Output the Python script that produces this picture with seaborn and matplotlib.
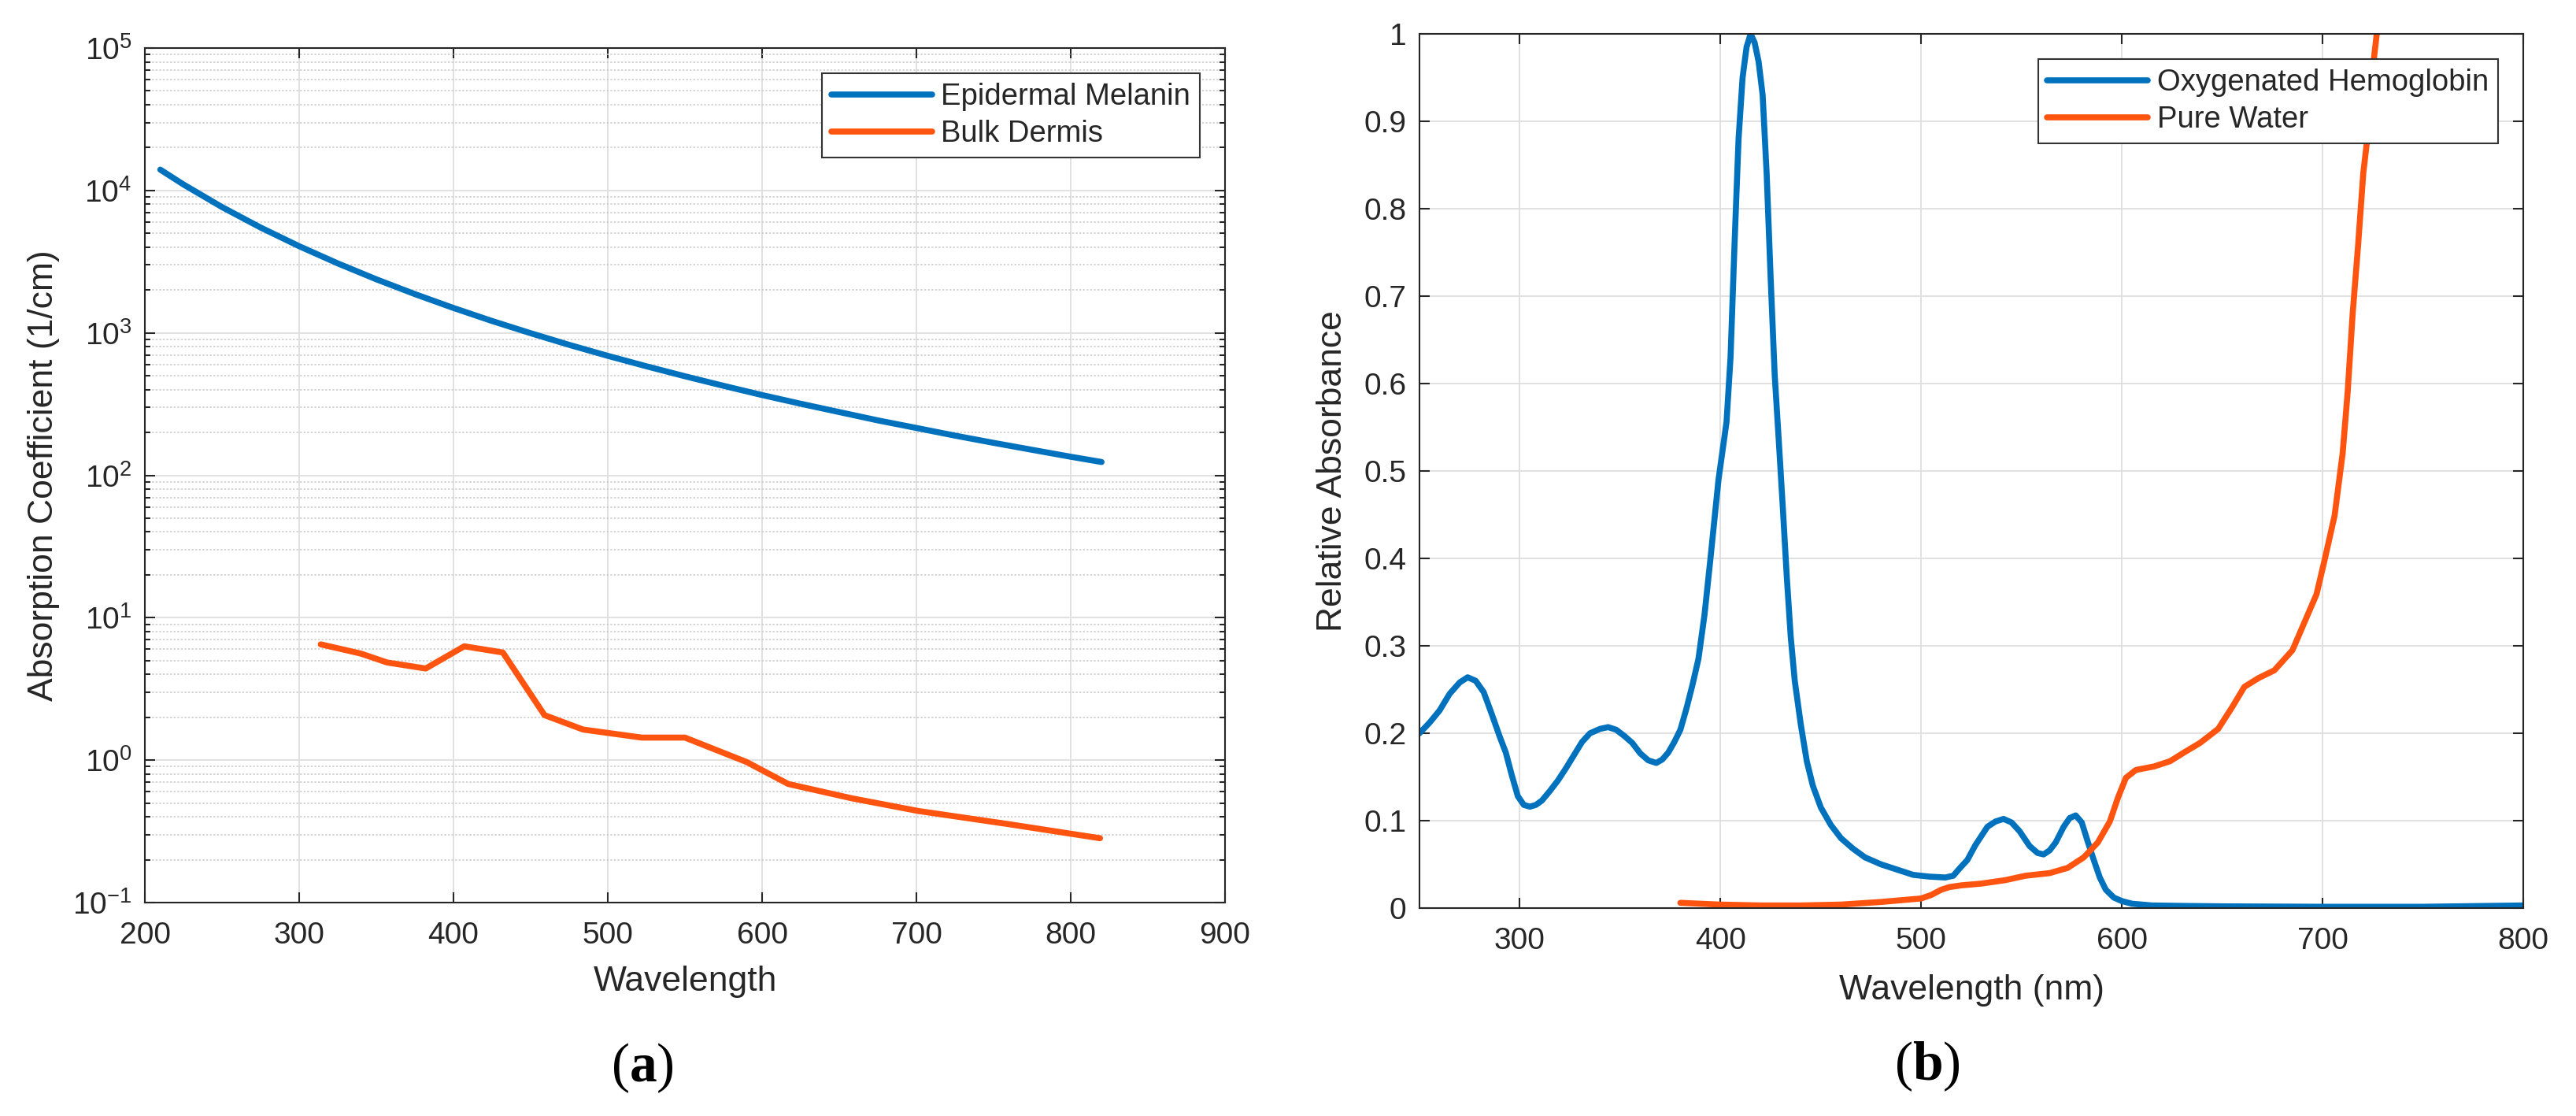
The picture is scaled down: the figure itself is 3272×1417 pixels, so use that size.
import matplotlib
matplotlib.use("Agg")
import matplotlib.pyplot as plt
import seaborn as sns
from matplotlib.ticker import (LogLocator, NullFormatter, NullLocator,
                               LogFormatterSciNotation, FuncFormatter, FixedLocator)

# ---------------- data ----------------
mel_wl = [210, 225, 250, 275, 300, 325, 350, 375, 400, 425, 450, 475, 500, 525, 550, 575,
          600, 625, 650, 675, 700, 725, 750, 775, 800, 820]
mel_mua = [14000, 11020, 7645, 5492, 4061, 3076, 2378, 1872, 1496, 1212, 995, 824, 690, 583,
           496, 425, 366, 318, 278, 243, 215, 190, 169, 151, 135, 124]

derm_wl = [314, 340, 357, 382, 407, 432, 459, 484, 522, 550, 590, 617, 658, 701, 760, 819]
derm_mua = [6.5, 5.6, 4.85, 4.4, 6.3, 5.7, 2.07, 1.64, 1.44, 1.44, 0.97, 0.68, 0.54, 0.44, 0.355, 0.283]

hb_wl = [250, 255, 260, 265, 270, 274, 278, 282, 286, 290, 293, 296, 299, 302, 305, 308, 311,
         315, 319, 323, 327, 331, 335, 340, 344, 348, 352, 356, 360, 364, 368, 371, 374, 377,
         380, 383, 386, 389, 392, 395, 399, 403, 405, 407, 409, 411, 413, 415, 417, 419, 421,
         423, 425, 427, 429, 431, 433, 435, 437, 440, 443, 446, 450, 455, 460, 466, 472, 480,
         488, 496, 504, 512, 516, 519, 523, 527, 533, 537, 541, 545, 549, 554, 558, 561, 564,
         567, 571, 574, 577, 580, 583, 586, 589, 592, 596, 600, 605, 615, 630, 650, 700, 750, 800]
hb_abs = [0.200, 0.212, 0.226, 0.245, 0.258, 0.264, 0.260, 0.247, 0.222, 0.196, 0.178, 0.152,
          0.128, 0.118, 0.116, 0.118, 0.123, 0.134, 0.146, 0.160, 0.175, 0.190, 0.200, 0.205,
          0.207, 0.204, 0.197, 0.189, 0.177, 0.169, 0.166, 0.170, 0.178, 0.190, 0.204, 0.228,
          0.255, 0.285, 0.335, 0.400, 0.490, 0.556, 0.630, 0.760, 0.880, 0.950, 0.985, 1.000,
          0.990, 0.968, 0.930, 0.840, 0.720, 0.610, 0.536, 0.460, 0.380, 0.310, 0.260, 0.210,
          0.168, 0.140, 0.115, 0.095, 0.080, 0.068, 0.058, 0.050, 0.044, 0.038, 0.036, 0.035,
          0.037, 0.045, 0.055, 0.072, 0.093, 0.099, 0.102, 0.098, 0.088, 0.071, 0.063, 0.0614,
          0.066, 0.075, 0.093, 0.103, 0.106, 0.098, 0.076, 0.055, 0.035, 0.021, 0.012, 0.008,
          0.005, 0.003, 0.0025, 0.002, 0.0015, 0.0015, 0.003]

water_wl = [380, 390, 400, 420, 440, 460, 480, 490, 500, 505, 510, 514, 520, 530, 542, 552,
            564, 573, 581, 588, 594, 598, 602, 607, 616, 624, 631, 639, 648, 655, 661, 668,
            676, 685, 691, 697, 701, 706, 710, 712.5, 715, 717.7, 720.3, 723.6, 725.5, 727, 729]
water_abs = [0.006, 0.005, 0.004, 0.003, 0.003, 0.004, 0.007, 0.009, 0.011, 0.015, 0.021,
             0.024, 0.026, 0.028, 0.032, 0.037, 0.040, 0.046, 0.058, 0.075, 0.099, 0.126,
             0.149, 0.158, 0.162, 0.168, 0.178, 0.189, 0.205, 0.230, 0.253, 0.263, 0.272,
             0.295, 0.327, 0.359, 0.398, 0.449, 0.52, 0.59, 0.68, 0.758, 0.841, 0.906, 0.97,
             1.0, 1.08]

left_xticks = [200, 300, 400, 500, 600, 700, 800, 900]
right_xticks = [300, 400, 500, 600, 700, 800]
right_yticks = [0, 0.1, 0.2, 0.3, 0.4, 0.5, 0.6, 0.7, 0.8, 0.9, 1]

# ---------------- style ----------------
sns.set_style("ticks")
DARK = "#262626"
BLUE = "#0072BD"
ORANGE = "#FF5310"
plt.rcParams.update({
    "font.family": ["Liberation Sans", "DejaVu Sans"],
    "mathtext.fontset": "custom",
    "mathtext.rm": "Liberation Serif",
    "mathtext.bf": "Liberation Serif:bold",
    "axes.edgecolor": DARK,
    "axes.linewidth": 1.5,
    "xtick.color": DARK,
    "ytick.color": DARK,
    "axes.labelcolor": DARK,
})

W, H = 3272, 1417
fig = plt.figure(figsize=(W / 100, H / 100), dpi=100)
fig.patch.set_facecolor("white")

def frac(x0, y0, x1, y1):
    return [x0 / W, 1 - y1 / H, (x1 - x0) / W, (y1 - y0) / H]

ax1 = fig.add_axes(frac(184, 61, 1556, 1146))
ax2 = fig.add_axes(frac(1803, 43, 3205, 1153))

LW = 5.5
TICK_FS = 28
LABEL_FS = 32
LEG_FS = 27.5

# ---------------- left panel ----------------
sns.lineplot(x=mel_wl, y=mel_mua, ax=ax1, color=BLUE, lw=LW, label="Epidermal Melanin",
             sort=False, estimator=None)
sns.lineplot(x=derm_wl, y=derm_mua, ax=ax1, color=ORANGE, lw=LW, label="Bulk Dermis",
             sort=False, estimator=None)
ax1.set_yscale("log")
ax1.set_xlim(200, 900)
ax1.set_ylim(1e-1, 1e5)
ax1.xaxis.set_major_locator(FixedLocator(left_xticks))
ax1.xaxis.set_minor_locator(NullLocator())
ax1.yaxis.set_major_locator(LogLocator(base=10, numticks=20))
ax1.yaxis.set_major_formatter(LogFormatterSciNotation())
ax1.yaxis.set_minor_locator(LogLocator(base=10, subs=range(2, 10), numticks=40))
ax1.yaxis.set_minor_formatter(NullFormatter())
ax1.set_axisbelow(True)
ax1.grid(True, which="major", color="#DEDEDE", lw=1.3, linestyle="-")
ax1.yaxis.grid(True, which="minor", color="#C8C8C8", lw=1.1, linestyle=(0, (1.5, 1.5)))
ax1.set_xlabel("Wavelength", fontsize=LABEL_FS)
ax1.set_ylabel("Absorption Coefficient (1/cm)", fontsize=LABEL_FS)
ax1.xaxis.set_label_coords(0.5, -0.074)
ax1.yaxis.set_label_coords(-0.079, 0.5)

# ---------------- right panel ----------------
sns.lineplot(x=hb_wl, y=hb_abs, ax=ax2, color=BLUE, lw=LW, label="Oxygenated Hemoglobin",
             sort=False, estimator=None)
sns.lineplot(x=water_wl, y=water_abs, ax=ax2, color=ORANGE, lw=LW, label="Pure Water",
             sort=False, estimator=None)
ax2.set_xlim(250, 800)
ax2.set_ylim(0, 1)
ax2.xaxis.set_major_locator(FixedLocator(right_xticks))
ax2.yaxis.set_major_locator(FixedLocator(right_yticks))
ax2.yaxis.set_major_formatter(FuncFormatter(lambda v, p: "%g" % round(v, 2)))
ax2.set_axisbelow(True)
ax2.grid(True, which="major", color="#DEDEDE", lw=1.3, linestyle="-")
ax2.set_xlabel("Wavelength (nm)", fontsize=LABEL_FS)
ax2.set_ylabel("Relative Absorbance", fontsize=LABEL_FS)
ax2.xaxis.set_label_coords(0.5, -0.0757)
ax2.yaxis.set_label_coords(-0.064, 0.5)

for ax in (ax1, ax2):
    ax.tick_params(which="both", direction="in", top=True, right=True,
                   labelsize=TICK_FS, width=1.5, colors=DARK)
    ax.tick_params(which="major", length=9.5)
    ax.tick_params(which="minor", length=5)
    ax.tick_params(axis="x", pad=17)
    ax.tick_params(axis="y", pad=12)
    for s in ax.spines.values():
        s.set_visible(True)
        s.set_color(DARK)
        s.set_linewidth(1.5)
    leg = ax.legend(loc="upper right", fontsize=LEG_FS, frameon=True, fancybox=False,
                    edgecolor="#333333", framealpha=1, handlelength=3.35,
                    handletextpad=0.3, borderpad=0.3, labelspacing=0.3,
                    borderaxespad=0.85)
    leg.get_frame().set_linewidth(1.5)
    for line in leg.get_lines():
        line.set_linewidth(LW)

# ---------------- captions ----------------
fig.text(816 / W, 1 - 1356 / H, r"$(\mathbf{a})$", ha="center", va="center", fontsize=50,
         color="black")
fig.text(2448 / W, 1 - 1354 / H, r"$(\mathbf{b})$", ha="center", va="center", fontsize=50,
         color="black")

fig.savefig("out.png", dpi=100, facecolor="white")
